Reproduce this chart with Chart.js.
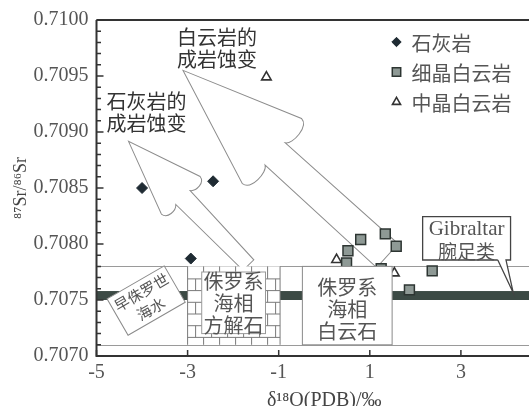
<!DOCTYPE html>
<html>
<head>
<meta charset="utf-8">
<script src="https://cdn.jsdelivr.net/npm/chart.js@4/dist/chart.umd.min.js"></script>
<style>
  html, body { margin: 0; padding: 0; overflow: hidden; background: #fff; }
  #wrap { width: 562px; height: 406px; }
</style>
</head>
<body>
<div id="wrap"><canvas id="c" width="562" height="406"></canvas></div>
<script>
// δ18O (‰, PDB) and 87Sr/86Sr of the three sample groups
const limestoneO   = [-4.00, -2.44, -2.93];
const limestoneSr  = [0.70850, 0.70856, 0.70787];
const fineDoloO    = [0.80, 1.34, 1.58, 0.52, 0.49, 1.87, 2.37, 1.25];
const fineDoloSr   = [0.70804, 0.70809, 0.70798, 0.70794, 0.70783, 0.70759, 0.70776, 0.70778];
const mediumDoloO  = [-1.27, 0.27, 1.54];
const mediumDoloSr = [0.70949, 0.70786, 0.70774];

const seriesNames = ['石灰岩', '细晶白云岩', '中晶白云岩'];
const xTickValues = [-5, -3, -1, 1, 3, 5];
const xRange = [-5, 5];
const yRange = [0.7070, 0.7100];

// Early Jurassic seawater band and the Jurassic marine envelope
const seawaterBand  = [0.70750, 0.70758];
const envelopeLines = [0.7078, 0.7071];

// Annotation fields, in axis units
const calciteField    = { x: [-3.00, -0.97], y: [0.7071, 0.7078] };
const calciteLabelBox = { x: [-2.69, -1.29], y: [0.70720, 0.70775] };
const dolomiteField   = { x: [-0.48, 1.49], y: [0.7071, 0.7078] };
const seawaterTag     = { x: -3.91, y: 0.707495 };
const gibraltarBox    = { x: [2.16, 4.09], y: [0.707857, 0.708245] };
const gibraltarTip    = { base: [3.81, 3.99], x: 4.15, y: 0.707563 };
const limestoneArrow  = { tip: [-4.297, 0.708916], tail: [-1.664, 0.707812] };
const dolomiteArrow   = { tip: [-3.100, 0.709550], tail: [1.387, 0.707895] };
const limestoneNote   = { x: -3.905, y: 0.709277, lines: ['石灰岩的', '成岩蚀变'] };
const dolomiteNote    = { x: -2.356, y: 0.709841, lines: ['白云岩的', '成岩蚀变'] };

const CJK = '"Noto Sans CJK SC", "Noto Sans", sans-serif';
const SERIF = '"Liberation Serif", "DejaVu Serif", serif';

const toPts = (xs, ys) => xs.map((x, i) => ({ x, y: ys[i] }));

function multiLine(ctx, lines, cx, cy, lh) {
  const n = lines.length;
  lines.forEach((t, i) => ctx.fillText(t, cx, cy + (i - (n - 1) / 2) * lh));
}

// Outlined block arrow with hooked barbs, from tip back to tail
function hollowArrow(ctx, tip, tail, o) {
  const dx = tail[0] - tip[0], dy = tail[1] - tip[1];
  const len = Math.hypot(dx, dy);
  ctx.save();
  ctx.translate(tip[0], tip[1]);
  ctx.rotate(Math.atan2(dy, dx));
  const { head, half, neck, end, hook } = o;
  ctx.beginPath();
  ctx.moveTo(0, 0);
  ctx.lineTo(head, half);
  ctx.bezierCurveTo(head + hook, half - 1, head + hook, neck + 4, head + hook * 0.4, neck);
  ctx.lineTo(len, end);
  ctx.lineTo(len, -end);
  ctx.lineTo(head + hook * 0.4, -neck);
  ctx.bezierCurveTo(head + hook, -neck - 4, head + hook, -half + 1, head, -half);
  ctx.closePath();
  ctx.fillStyle = '#fff';
  ctx.fill();
  ctx.strokeStyle = '#8c8c8c';
  ctx.lineWidth = 1;
  ctx.stroke();
  ctx.restore();
}

function marker(ctx, ds, x, y, scale) {
  ctx.save();
  ctx.fillStyle = ds.backgroundColor;
  ctx.strokeStyle = ds.borderColor;
  ctx.lineWidth = ds.borderWidth;
  if (Chart.helpers && Chart.helpers.drawPoint) {
    Chart.helpers.drawPoint(ctx, { pointStyle: ds.pointStyle, radius: ds.pointRadius * scale, rotation: 0, borderWidth: ds.borderWidth }, x, y);
  }
  ctx.restore();
}

const decorations = {
  id: 'decorations',
  beforeDatasetsDraw(chart) {
    const { ctx, chartArea: a } = chart;
    const X = v => chart.scales.x.getPixelForValue(v);
    const Y = v => chart.scales.y.getPixelForValue(v);
    ctx.save();
    // envelope lines
    ctx.strokeStyle = '#9a9a9a';
    ctx.lineWidth = 1;
    envelopeLines.forEach(v => {
      const y = Math.round(Y(v)) + 0.5;
      ctx.beginPath(); ctx.moveTo(a.left, y); ctx.lineTo(a.right, y); ctx.stroke();
    });
    // seawater band
    ctx.fillStyle = '#3c4a45';
    ctx.fillRect(a.left, Y(seawaterBand[1]), a.right - a.left, Y(seawaterBand[0]) - Y(seawaterBand[1]));
    // diagenesis arrows
    hollowArrow(ctx, [X(dolomiteArrow.tip[0]), Y(dolomiteArrow.tip[1])],
                [X(dolomiteArrow.tail[0]), Y(dolomiteArrow.tail[1])],
                { head: 120, half: 44, neck: 15, end: 16, hook: 11 });
    hollowArrow(ctx, [X(limestoneArrow.tip[0]), Y(limestoneArrow.tip[1])],
                [X(limestoneArrow.tail[0]), Y(limestoneArrow.tail[1])],
                { head: 75, half: 27, neck: 10, end: 7.5, hook: 8 });
    ctx.fillStyle = '#333';
    ctx.font = '20px ' + CJK;
    ctx.textAlign = 'center';
    ctx.textBaseline = 'middle';
    [limestoneNote, dolomiteNote].forEach(n => {
      n.lines.forEach((t, i) => ctx.fillText(t, X(n.x), Y(n.y) + i * 22));
    });
    ctx.restore();
  },
  afterDatasetsDraw(chart) {
    const { ctx, chartArea: a } = chart;
    const X = v => chart.scales.x.getPixelForValue(v);
    const Y = v => chart.scales.y.getPixelForValue(v);
    ctx.save();
    ctx.textAlign = 'center';
    ctx.textBaseline = 'middle';

    // Jurassic marine calcite: brick field
    {
      const L = X(calciteField.x[0]), R = X(calciteField.x[1]);
      const T = Y(calciteField.y[1]), B = Y(calciteField.y[0]);
      ctx.fillStyle = '#fff';
      ctx.fillRect(L, T, R - L, B - T);
      ctx.strokeStyle = '#7a7a7a';
      ctx.lineWidth = 1;
      const rows = [T];
      for (let y = T + 12.5; y < B - 2; y += 11.7) rows.push(y);
      rows.push(B);
      ctx.beginPath();
      for (let r = 0; r < rows.length - 1; r++) {
        const y0 = rows[r], y1 = rows[r + 1];
        if (r > 0) { ctx.moveTo(L, y0); ctx.lineTo(R, y0); }
        for (let x = L + (r % 2 ? 8 : 16); x < R - 1; x += 16) {
          ctx.moveTo(x, y0); ctx.lineTo(x, y1);
        }
      }
      ctx.moveTo(L, T); ctx.lineTo(L, B);
      ctx.moveTo(R, T); ctx.lineTo(R, B);
      ctx.stroke();
      const bl = X(calciteLabelBox.x[0]), br = X(calciteLabelBox.x[1]);
      const bt = Y(calciteLabelBox.y[1]), bb = Y(calciteLabelBox.y[0]);
      ctx.fillStyle = '#fff';
      ctx.fillRect(bl, bt, br - bl, bb - bt);
      ctx.strokeStyle = '#999';
      ctx.strokeRect(bl, bt, br - bl, bb - bt);
      ctx.fillStyle = '#555';
      ctx.font = '20px ' + CJK;
      multiLine(ctx, ['侏罗系', '海相', '方解石'], (bl + br) / 2, (bt + bb) / 2 + 1, 22);
    }

    // Jurassic marine dolomite field
    {
      const L = X(dolomiteField.x[0]), R = X(dolomiteField.x[1]);
      const T = Y(dolomiteField.y[1]), B = Y(dolomiteField.y[0]);
      ctx.fillStyle = '#fff';
      ctx.fillRect(L, T, R - L, B - T);
      ctx.strokeStyle = '#8a8a8a';
      ctx.lineWidth = 1;
      ctx.strokeRect(L, T, R - L, B - T);
      ctx.fillStyle = '#555';
      ctx.font = '20px ' + CJK;
      multiLine(ctx, ['侏罗系', '海相', '白云石'], (L + R) / 2, (T + B) / 2 + 4, 22);
    }

    // Early Jurassic seawater tag
    {
      ctx.save();
      ctx.translate(X(seawaterTag.x), Y(seawaterTag.y));
      ctx.rotate(-30 * Math.PI / 180);
      ctx.fillStyle = '#fff';
      ctx.fillRect(-33, -21, 66, 42);
      ctx.strokeStyle = '#8a8a8a';
      ctx.lineWidth = 1;
      ctx.strokeRect(-33, -21, 66, 42);
      ctx.fillStyle = '#555';
      ctx.font = '15px ' + CJK;
      multiLine(ctx, ['早侏罗世', '海水'], 0, 0, 19);
      ctx.restore();
    }

    // Gibraltar brachiopod callout
    {
      const L = X(gibraltarBox.x[0]), R = X(gibraltarBox.x[1]);
      const T = Y(gibraltarBox.y[1]), B = Y(gibraltarBox.y[0]);
      const b0 = X(gibraltarTip.base[0]), b1 = X(gibraltarTip.base[1]);
      const tx = X(gibraltarTip.x), ty = Y(gibraltarTip.y);
      ctx.fillStyle = '#fff';
      ctx.fillRect(L, T, R - L, B - T);
      ctx.beginPath(); ctx.moveTo(b0, B); ctx.lineTo(tx, ty); ctx.lineTo(b1, B); ctx.closePath(); ctx.fill();
      ctx.strokeStyle = '#444';
      ctx.lineWidth = 1.3;
      ctx.beginPath();
      ctx.moveTo(b0, B); ctx.lineTo(L, B); ctx.lineTo(L, T); ctx.lineTo(R, T); ctx.lineTo(R, B); ctx.lineTo(b1, B);
      ctx.lineTo(tx, ty); ctx.lineTo(b0, B);
      ctx.stroke();
      ctx.fillStyle = '#555';
      ctx.font = '21px ' + SERIF;
      ctx.fillText('Gibraltar', (L + R) / 2, T + 13);
      ctx.font = '19px ' + CJK;
      ctx.fillText('腕足类', (L + R) / 2, T + 35);
    }

    // legend
    {
      const lx = a.left + 300, ly = a.top + 22;
      ctx.textAlign = 'left';
      ctx.font = '20px ' + CJK;
      chart.data.datasets.forEach((ds, i) => {
        const y = ly + i * 30;
        marker(ctx, ds, lx, y, 0.85);
        ctx.fillStyle = '#555';
        ctx.fillText(ds.label, lx + 15, y + 1);
      });
    }

    // frame and inward ticks
    {
      ctx.strokeStyle = '#333';
      ctx.lineWidth = 2;
      ctx.beginPath();
      ctx.moveTo(a.left, a.top); ctx.lineTo(a.right, a.top);
      ctx.moveTo(a.left, a.top); ctx.lineTo(a.left, a.bottom);
      ctx.moveTo(a.left - 1, a.bottom); ctx.lineTo(a.right, a.bottom);
      ctx.stroke();
      ctx.lineWidth = 1.5;
      ctx.beginPath();
      const ys = chart.scales.y.ticks.map(t => t.value);
      ys.forEach((v, i) => {
        const y = Y(v);
        ctx.moveTo(a.left, y); ctx.lineTo(a.left + 7, y);
        if (i < ys.length - 1) {
          for (let k = 1; k < 5; k++) {
            const ym = Y(v + (ys[i + 1] - v) * k / 5);
            ctx.moveTo(a.left, ym); ctx.lineTo(a.left + 4.5, ym);
          }
        }
      });
      chart.scales.x.ticks.forEach(t => {
        const x = X(t.value);
        ctx.moveTo(x, a.bottom); ctx.lineTo(x, a.bottom - 6);
      });
      ctx.stroke();
    }
    ctx.restore();
  }
};

new Chart(document.getElementById('c'), {
  type: 'scatter',
  data: {
    datasets: [
      { label: seriesNames[0], data: toPts(limestoneO, limestoneSr), pointStyle: 'rectRot',
        pointRadius: 5.5, backgroundColor: '#1f2b33', borderColor: '#1f2b33', borderWidth: 1 },
      { label: seriesNames[1], data: toPts(fineDoloO, fineDoloSr), pointStyle: 'rect',
        pointRadius: 7, backgroundColor: '#8e9995', borderColor: '#2d3532', borderWidth: 1.5 },
      { label: seriesNames[2], data: toPts(mediumDoloO, mediumDoloSr), pointStyle: 'triangle',
        pointRadius: 5.5, backgroundColor: '#ffffff', borderColor: '#333333', borderWidth: 1.6 }
    ]
  },
  options: {
    responsive: false,
    animation: false,
    events: [],
    layout: { padding: { left: 0, top: 15, right: 6, bottom: 0 } },
    plugins: { legend: { display: false }, tooltip: { enabled: false } },
    scales: {
      x: {
        type: 'linear', position: 'bottom', min: xRange[0], max: xRange[1],
        afterBuildTicks: s => { s.ticks = xTickValues.map(v => ({ value: v })); },
        afterFit: s => { s.height = 50; },
        grid: { display: false, drawTicks: false },
        border: { display: false },
        ticks: { color: '#555', font: { family: SERIF, size: 20 }, padding: 5, maxRotation: 0, autoSkip: false,
                 callback: v => String(v) },
        title: { display: true, text: 'δ¹⁸O(PDB)/‰', color: '#444',
                 font: { family: SERIF, size: 20, lineHeight: 0.55 }, padding: { top: 0, bottom: 0 } }
      },
      y: {
        type: 'linear', min: yRange[0], max: yRange[1],
        afterFit: s => { s.width = 96.5; },
        grid: { display: false, drawTicks: false },
        border: { display: false },
        ticks: { stepSize: 0.0005, color: '#555', font: { family: SERIF, size: 20 }, padding: 8,
                 callback: v => Number(v).toFixed(4) },
        title: { display: true, text: '⁸⁷Sr/⁸⁶Sr', color: '#444',
                 font: { family: SERIF, size: 18 }, padding: { top: 10, bottom: 0 } }
      }
    }
  },
  plugins: [decorations]
});
</script>
</body>
</html>
